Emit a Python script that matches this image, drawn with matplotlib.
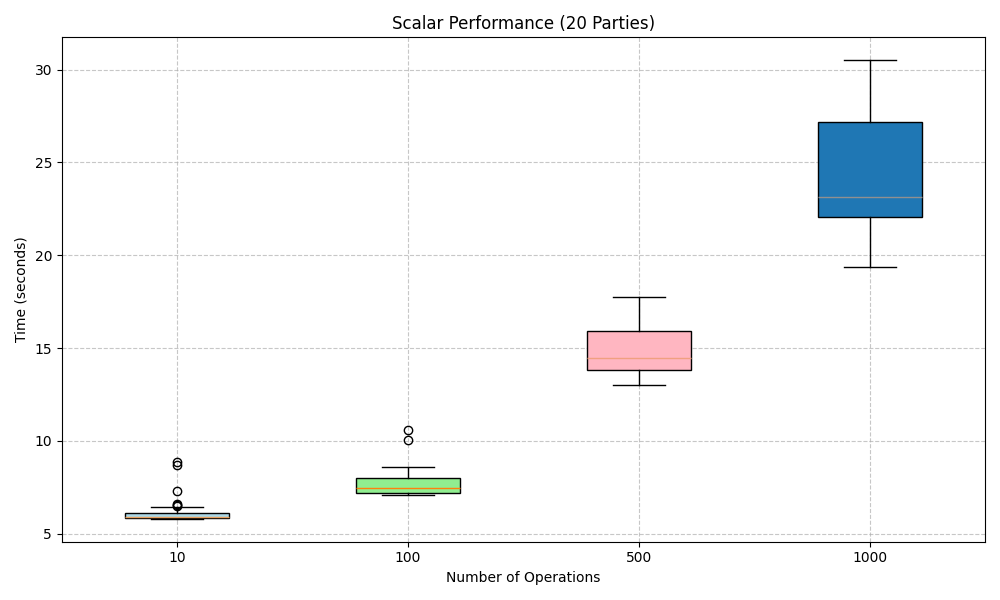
import matplotlib
matplotlib.use('Agg')
import matplotlib.pyplot as plt

# box stats
labels = ['10', '100', '500', '1000']
whislo = [5.8, 7.1, 13.0, 19.35]
q1 = [5.85, 7.2, 13.8, 22.05]
med = [5.9, 7.45, 14.45, 23.15]
q3 = [6.1, 8.0, 15.9, 27.2]
whishi = [6.45, 8.6, 17.75, 30.5]
fliers = [[6.5, 6.55, 6.6, 7.3, 8.7, 8.85], [10.05, 10.6], [], []]
box_colors = ['lightblue', 'lightgreen', 'lightpink', '#1f77b4']
median_colors = ['#e8a060', '#ff7f0e', '#f0a080', '#909090']

stats = []
for i in range(len(labels)):
    stats.append({'label': labels[i], 'whislo': whislo[i], 'q1': q1[i], 'med': med[i],
                  'q3': q3[i], 'whishi': whishi[i], 'fliers': fliers[i]})

fig, ax = plt.subplots(figsize=(10, 6))
bp = ax.bxp(stats, patch_artist=True, widths=0.45)
for patch, c in zip(bp['boxes'], box_colors):
    patch.set_facecolor(c)
for m, c in zip(bp['medians'], median_colors):
    m.set_color(c)

ax.set_title('Scalar Performance (20 Parties)')
ax.set_xlabel('Number of Operations')
ax.set_ylabel('Time (seconds)')
ax.grid(True, linestyle='--', alpha=0.7)
plt.tight_layout()
plt.savefig('out.png', dpi=100)
